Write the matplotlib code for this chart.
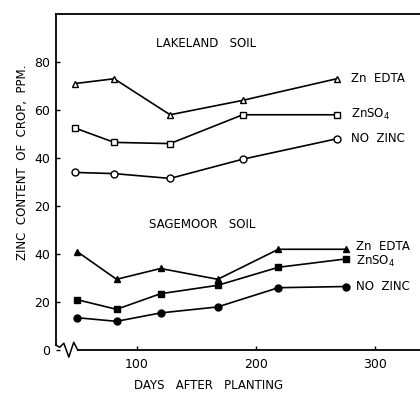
import matplotlib
matplotlib.use('agg')
import matplotlib.pyplot as plt

# Lakeland soil (upper scale, plotted with +40 offset)
lake_days = [48, 81, 128, 189, 268]
lake_edta = [71, 73, 58, 64, 73]
lake_znso4 = [52.5, 46.5, 46, 58, 58]
lake_nozinc = [34, 33.5, 31.5, 39.5, 48]

# Sagemoor soil (lower scale)
sage_days = [50, 83, 120, 168, 219, 276]
sage_edta = [41, 29.5, 34, 29.5, 42, 42]
sage_znso4 = [21, 17, 23.5, 27, 34.5, 38]
sage_nozinc = [13.5, 12, 15.5, 18, 26, 26.5]

lake_offset = 40
ytick_pos = [0, 20, 40, 60, 80, 100, 120]
ytick_labels = ['0', '20', '40', '20', '40', '60', '80']
xtick_pos = [100, 200, 300]

fig = plt.figure(figsize=(4.2, 3.97), dpi=100)
ax = fig.add_axes([0.133, 0.118, 0.867, 0.847])

lw = 1.2
ms = 5
kw = dict(color='black', lw=lw, ms=ms, markeredgewidth=1.0)

# upper (open markers)
ax.plot(lake_days, [v + lake_offset for v in lake_edta], marker='^', mfc='white', **kw)
ax.plot(lake_days, [v + lake_offset for v in lake_znso4], marker='s', mfc='white', ms=4.5,
        color='black', lw=lw, markeredgewidth=1.0)
ax.plot(lake_days, [v + lake_offset for v in lake_nozinc], marker='o', mfc='white', **kw)

# lower (filled markers)
ax.plot(sage_days, sage_edta, marker='^', mfc='black', **kw)
ax.plot(sage_days, sage_znso4, marker='s', mfc='black', ms=4.5,
        color='black', lw=lw, markeredgewidth=1.0)
ax.plot(sage_days, sage_nozinc, marker='o', mfc='black', **kw)

fs = 8.5
tx = lake_days[-1] + 12
ax.text(tx, lake_edta[-1] + lake_offset, 'Zn  EDTA', fontsize=fs, va='center')
ax.text(tx, lake_znso4[-1] + lake_offset, r'ZnSO$_4$', fontsize=fs, va='center')
ax.text(tx, lake_nozinc[-1] + lake_offset, 'NO  ZINC', fontsize=fs, va='center')

tx2 = sage_days[-1] + 8
ax.text(tx2, sage_edta[-1] + 1, 'Zn  EDTA', fontsize=fs, va='center')
ax.text(tx2, sage_znso4[-1] - 1, r'ZnSO$_4$', fontsize=fs, va='center')
ax.text(tx2, sage_nozinc[-1], 'NO  ZINC', fontsize=fs, va='center')

ax.text(158, 127.5, 'LAKELAND   SOIL', fontsize=fs, ha='center', va='center')
ax.text(155, 52.5, 'SAGEMOOR   SOIL', fontsize=fs, ha='center', va='center')

ax.set_xlim(32, 338)
ax.set_ylim(0, 140)
ax.set_yticks(ytick_pos)
ax.set_yticklabels(ytick_labels, fontsize=9)
ax.set_xticks(xtick_pos)
ax.set_xticklabels([str(t) for t in xtick_pos], fontsize=9)
ax.tick_params(direction='in', length=3, width=1)
ax.tick_params(axis='x', pad=6)
ax.tick_params(axis='y', pad=4)

ax.spines['right'].set_visible(False)
for s in ['left', 'top', 'bottom']:
    ax.spines[s].set_linewidth(1.3)
ax.spines['left'].set_bounds(2.1, 140)
ax.spines['bottom'].set_bounds(50.4, 338)

# axis break mark at the bottom-left corner
ax.plot([32, 35.3, 38.7, 42.9, 47, 50.4], [2.1, 1.2, 2.9, -2.9, 3.3, 0],
        color='black', lw=1.1, clip_on=False)

ax.set_ylabel('ZINC  CONTENT  OF  CROP,  PPM.', fontsize=fs)
ax.yaxis.set_label_coords(-0.075, 0.56)
ax.set_xlabel('DAYS   AFTER   PLANTING', fontsize=fs)
ax.xaxis.set_label_coords(0.418, -0.085)

fig.savefig('out.png', dpi=100)
